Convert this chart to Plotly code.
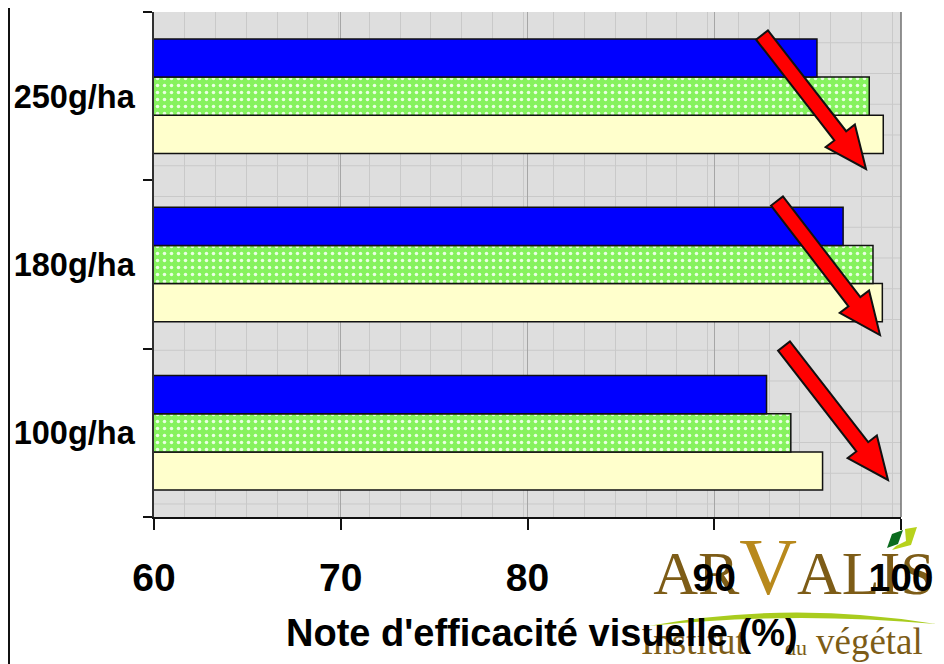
import math
import plotly.graph_objects as go

# ---------------- data ----------------
categories = ["100g/ha", "180g/ha", "250g/ha"]
serie_bleue = [92.8, 96.9, 95.5]
serie_verte = [94.1, 98.5, 98.3]
serie_jaune = [95.8, 99.0, 99.05]
x_ticks = [60, 70, 80, 90, 100]
x_title = "Note d'efficacité visuelle (%)"

# ---------------- geometry (figure pixels; page adds an 8px body margin) ----------------
W, H = 936, 656
L, R, T, B = 146, 893, 4, 509
CELL = 30.75  # background pattern cell size (px)


def px(x):
    return x / W


def py(y):
    return 1 - y / H


def path_px(points, close=True):
    s = "M " + " L ".join(f"{px(a):.5f},{py(b):.5f}" for a, b in points)
    return s + (" Z" if close else "")


def arrow_path(tail, tip, shaft=15, head_w=37, head_l=42):
    tx, ty = tail
    hx, hy = tip
    dx, dy = hx - tx, hy - ty
    n = math.hypot(dx, dy)
    ux, uy = dx / n, dy / n
    nx, ny = -uy, ux
    bx, by = hx - ux * head_l, hy - uy * head_l
    pts = [
        (tx + nx * shaft / 2, ty + ny * shaft / 2),
        (bx + nx * shaft / 2, by + ny * shaft / 2),
        (bx + nx * head_w / 2, by + ny * head_w / 2),
        (hx, hy),
        (bx - nx * head_w / 2, by - ny * head_w / 2),
        (bx - nx * shaft / 2, by - ny * shaft / 2),
        (tx - nx * shaft / 2, ty - ny * shaft / 2),
    ]
    return path_px(pts)


FONT = "Liberation Sans, Arial, sans-serif"
SERIF = "Liberation Serif, Times New Roman, serif"
BROWN = "#7d5c17"

fig = go.Figure()

# logo texts on a full-figure pixel-space subplot (drawn beneath the chart's labels)
fig.add_trace(go.Scatter(
    x=[786], y=[570], xaxis="x", yaxis="y", mode="text",
    text=["AR<span style='color:#b8891c;font-size:80px'>V</span>ALIS"],
    textfont=dict(family=SERIF, size=62, color=BROWN),
    textposition="middle center", cliponaxis=False, hoverinfo="skip",
    showlegend=False,
))
fig.add_trace(go.Scatter(
    x=[633, 777, 808], y=[637, 641, 637], xaxis="x", yaxis="y", mode="text",
    text=["Institut", "du", "végétal"],
    textfont=dict(family=SERIF, size=[37, 22, 37], color=BROWN),
    textposition="middle right", cliponaxis=False, hoverinfo="skip",
    showlegend=False,
))

# bars (first trace is drawn lowest in each group)
fig.add_trace(go.Bar(
    y=categories, x=serie_jaune, orientation="h", name="jaune",
    xaxis="x2", yaxis="y2",
    marker=dict(color="#ffffcc", line=dict(color="#111111", width=1.5)),
    hoverinfo="x",
))
fig.add_trace(go.Bar(
    y=categories, x=serie_verte, orientation="h", name="vert",
    xaxis="x2", yaxis="y2",
    marker=dict(color="#88f060", line=dict(color="#111111", width=1.5),
                pattern=dict(shape=".", bgcolor="#86f25e", fgcolor="#eaffe2",
                             size=7, solidity=0.2, fillmode="replace")),
    hoverinfo="x",
))
fig.add_trace(go.Bar(
    y=categories, x=serie_bleue, orientation="h", name="bleu",
    xaxis="x2", yaxis="y2",
    marker=dict(color="#0000ff", line=dict(color="#111111", width=1.5)),
    hoverinfo="x",
))

shapes = []
# grey plot-area background
shapes.append(dict(type="rect", xref="x2 domain", yref="y2 domain", x0=0, x1=1, y0=0, y1=1,
                   fillcolor="#dedede", line=dict(width=0), layer="below"))
# horizontal lines of the background pattern
k = 1
while T + k * CELL < B - 2:
    yy = py(T + k * CELL)
    shapes.append(dict(type="line", xref="x2 domain", yref="paper", x0=0, x1=1, y0=yy, y1=yy,
                       line=dict(color="#c9c9c9", width=1), layer="below"))
    k += 1
# right edge of plot area
shapes.append(dict(type="line", xref="x2 domain", yref="y2 domain", x0=1, x1=1, y0=0, y1=1,
                   line=dict(color="#707070", width=1.5), layer="above"))
# left page border
shapes.append(dict(type="line", xref="paper", yref="paper", x0=px(0.5), x1=px(0.5),
                   y0=0, y1=1, line=dict(color="#111111", width=3)))
# arrows
for tail, tip in [((754, 27), (858, 161)), ((769, 193), (872, 327)), ((776, 338), (880, 472))]:
    shapes.append(dict(type="path", xref="paper", yref="paper", path=arrow_path(tail, tip),
                       fillcolor="#ff0000", line=dict(color="#111111", width=2), layer="above"))
# logo swoosh
sw = ("M {} Q {} {} Q {} {} Z").format(
    f"{px(640):.5f},{py(618):.5f}",
    f"{px(782):.5f},{py(592):.5f}", f"{px(928):.5f},{py(616):.5f}",
    f"{px(782):.5f},{py(603):.5f}", f"{px(640):.5f},{py(618):.5f}")
shapes.append(dict(type="path", xref="paper", yref="paper", path=sw,
                   fillcolor="#a9cc1e", line=dict(width=0), layer="below"))
# logo leaf
shapes.append(dict(type="path", xref="paper", yref="paper",
                   path=path_px([(879, 540), (884, 526), (895, 522), (890, 536)]),
                   fillcolor="#0b6b1e", line=dict(width=0), layer="below"))
shapes.append(dict(type="path", xref="paper", yref="paper",
                   path=path_px([(897, 521), (909, 519), (903, 537), (884, 542), (888, 538), (898, 533)]),
                   fillcolor="#b7d21c", line=dict(width=0), layer="below"))

fig.update_layout(
    width=W, height=H,
    margin=dict(l=0, r=0, t=0, b=0, pad=0, autoexpand=False),
    paper_bgcolor="white", plot_bgcolor="rgba(0,0,0,0)",
    barmode="group", bargap=0.32, bargroupgap=0,
    showlegend=False,
    shapes=shapes,
    annotations=[dict(
        text=x_title, xref="paper", yref="paper", x=px(534), y=py(625),
        xanchor="center", yanchor="middle", showarrow=False,
        font=dict(family=FONT, size=38, color="black", weight="bold"),
    )],
    # pixel-space axes for the logo
    xaxis=dict(domain=[0, 1], range=[0, W], visible=False, fixedrange=True),
    yaxis=dict(domain=[0, 1], range=[H, 0], visible=False, fixedrange=True),
    # chart axes
    xaxis2=dict(
        domain=[px(L), px(R)], anchor="y2", automargin=False,
        range=[60, 100], tickvals=x_ticks, ticks="outside", ticklen=11,
        tickcolor="#111111", tickwidth=1.5,
        showline=True, linecolor="#111111", linewidth=1.5,
        showgrid=True, gridcolor="#a6a6a6", gridwidth=1, zeroline=False,
        minor=dict(tick0=60, dtick=CELL / ((R - L) / 40), showgrid=True,
                   gridcolor="#c9c9c9", gridwidth=1, ticks=""),
        tickfont=dict(family=FONT, size=39, color="black", weight="bold"),
        ticklabelstandoff=14,
    ),
    yaxis2=dict(
        domain=[py(B), py(T)], anchor="x2", automargin=False,
        type="category", categoryarray=categories, range=[-0.5, 2.5],
        ticks="outside", tickson="boundaries", ticklen=9, tickcolor="#111111",
        tickwidth=1.5, showline=True, linecolor="#303030", linewidth=1.5,
        showgrid=False, zeroline=False,
        tickfont=dict(family=FONT, size=32.5, color="black", weight="bold"),
        ticklabelstandoff=11,
    ),
)

fig.write_html("out.html")
